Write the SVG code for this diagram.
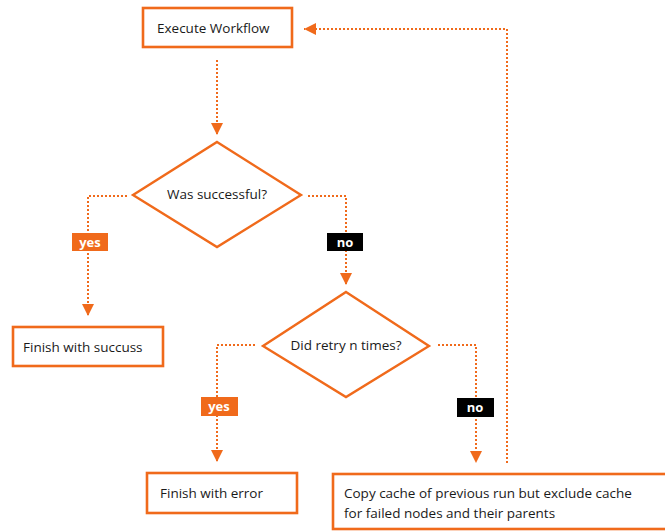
<svg xmlns="http://www.w3.org/2000/svg" width="665" height="531" viewBox="0 0 665 531">
  <style>
    .box { fill: #ffffff; stroke: #f06a1b; stroke-width: 2.6; }
    .dia { fill: #ffffff; stroke: #f06a1b; stroke-width: 2.4; }
    .txt { font-family: "Open Sans", "Liberation Sans", sans-serif; font-size: 13.5px; fill: #1a1a1a; }
    .lbl { font-family: "Open Sans", "Liberation Sans", sans-serif; font-size: 13px; font-weight: bold; fill: #ffffff; text-anchor: middle; }
    .edge { fill: none; stroke: #f06a1b; stroke-width: 2; stroke-dasharray: 2 2; }
  </style>
  <defs>
    <marker id="arrow" markerWidth="12" markerHeight="12" refX="12" refY="6" orient="auto" markerUnits="userSpaceOnUse">
      <path d="M0,0 L12,6 L0,12 Z" fill="#f06a1b"/>
    </marker>
  </defs>
  <rect width="665" height="531" fill="#ffffff"/>

  <g id="connectors">
    <path class="edge" d="M217,60 V135" marker-end="url(#arrow)"/>
    <path class="edge" d="M127,196 H88 V316" marker-end="url(#arrow)"/>
    <path class="edge" d="M308,196 H346 V285" marker-end="url(#arrow)"/>
    <path class="edge" d="M255,345 H217 V462" marker-end="url(#arrow)"/>
    <path class="edge" d="M438,345 H476 V463" marker-end="url(#arrow)"/>
    <path class="edge" d="M507,463 V29 H304" marker-end="url(#arrow)"/>
    <g id="label-yes-1">
      <rect x="72" y="233" width="36" height="18" fill="#f06a1b"/>
      <text class="lbl" x="90" y="247">yes</text>
    </g>
    <g id="label-no-1">
      <rect x="327" y="233" width="36" height="18" fill="#000000"/>
      <text class="lbl" x="345" y="247">no</text>
    </g>
    <g id="label-yes-2">
      <rect x="201" y="397" width="37" height="19" fill="#f06a1b"/>
      <text class="lbl" x="219" y="411">yes</text>
    </g>
    <g id="label-no-2">
      <rect x="457" y="398" width="37" height="19" fill="#000000"/>
      <text class="lbl" x="475" y="412">no</text>
    </g>
  </g>

  <g id="execute-workflow">
    <rect class="box" x="143" y="8" width="149" height="39"/>
    <text class="txt" x="157" y="33">Execute Workflow</text>
  </g>

  <g id="was-successful">
    <polygon class="dia" points="217,142 301,195 217,247 133,195"/>
    <text class="txt" x="217" y="199" text-anchor="middle">Was successful?</text>
  </g>

  <g id="finish-success">
    <rect class="box" x="13" y="327" width="150" height="39"/>
    <text class="txt" x="23" y="352">Finish with succuss</text>
  </g>

  <g id="did-retry">
    <polygon class="dia" points="346,292 429,346 346,397 263,346"/>
    <text class="txt" x="346" y="350" text-anchor="middle">Did retry n times?</text>
  </g>

  <g id="finish-error">
    <rect class="box" x="147" y="473" width="150" height="40"/>
    <text class="txt" x="160" y="498">Finish with error</text>
  </g>

  <g id="copy-cache">
    <rect class="box" x="333" y="474" width="336" height="55"/>
    <text class="txt" x="344" y="498">Copy cache of previous run but exclude cache</text>
    <text class="txt" x="344" y="518">for failed nodes and their parents</text>
  </g>
</svg>
